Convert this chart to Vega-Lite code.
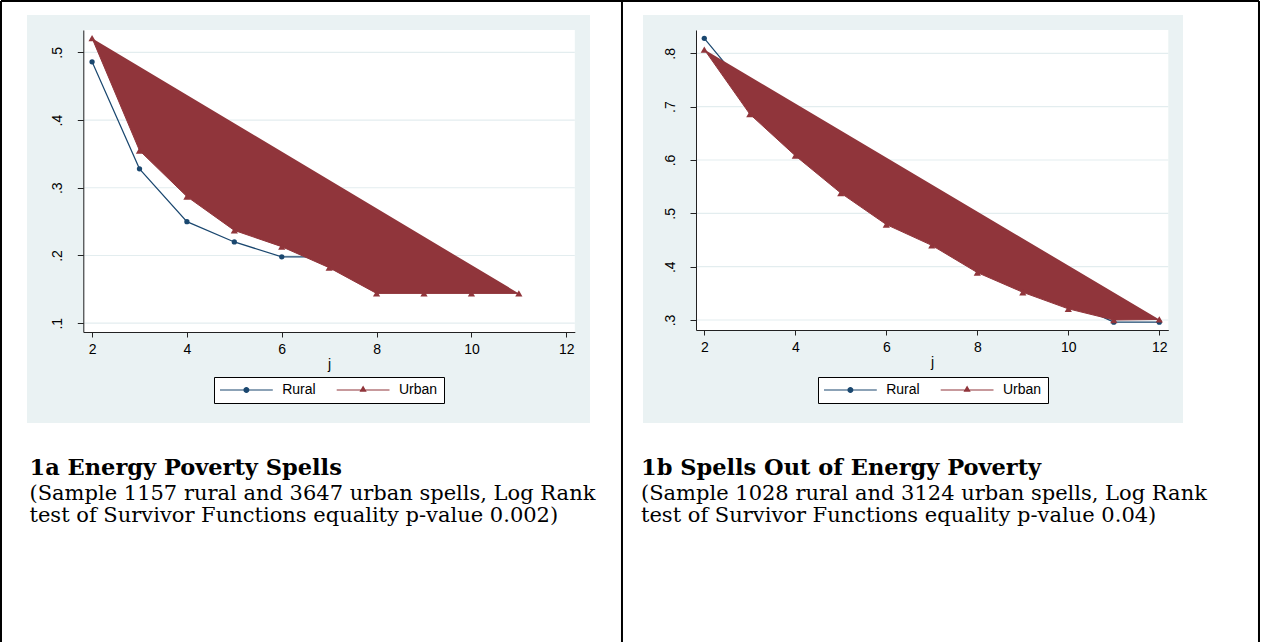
{
  "$schema": "https://vega.github.io/schema/vega-lite/v6.json",
  "background": "#FFFFFF",
  "padding": {"left": -1, "top": -1, "right": 0, "bottom": 0},
  "bounds": "flush",
  "spacing": 53,
  "datasets": {
    "left": [
      {"j": 2, "value": 0.486, "area": "Rural"},
      {"j": 3, "value": 0.328, "area": "Rural"},
      {"j": 4, "value": 0.250, "area": "Rural"},
      {"j": 5, "value": 0.220, "area": "Rural"},
      {"j": 6, "value": 0.198, "area": "Rural"},
      {"j": 7, "value": 0.198, "area": "Rural"},
      {"j": 8, "value": 0.176, "area": "Rural"},
      {"j": 9, "value": 0.166, "area": "Rural"},
      {"j": 10, "value": 0.160, "area": "Rural"},
      {"j": 2, "value": 0.521, "area": "Urban"},
      {"j": 3, "value": 0.355, "area": "Urban"},
      {"j": 4, "value": 0.287, "area": "Urban"},
      {"j": 5, "value": 0.237, "area": "Urban"},
      {"j": 6, "value": 0.213, "area": "Urban"},
      {"j": 7, "value": 0.182, "area": "Urban"},
      {"j": 8, "value": 0.144, "area": "Urban"},
      {"j": 9, "value": 0.144, "area": "Urban"},
      {"j": 10, "value": 0.144, "area": "Urban"},
      {"j": 11, "value": 0.144, "area": "Urban"}
    ],
    "right": [
      {"j": 2, "value": 0.828, "area": "Rural"},
      {"j": 3, "value": 0.725, "area": "Rural"},
      {"j": 4, "value": 0.645, "area": "Rural"},
      {"j": 5, "value": 0.575, "area": "Rural"},
      {"j": 6, "value": 0.515, "area": "Rural"},
      {"j": 7, "value": 0.465, "area": "Rural"},
      {"j": 8, "value": 0.420, "area": "Rural"},
      {"j": 9, "value": 0.380, "area": "Rural"},
      {"j": 10, "value": 0.335, "area": "Rural"},
      {"j": 11, "value": 0.296, "area": "Rural"},
      {"j": 12, "value": 0.296, "area": "Rural"},
      {"j": 2, "value": 0.807, "area": "Urban"},
      {"j": 3, "value": 0.686, "area": "Urban"},
      {"j": 4, "value": 0.608, "area": "Urban"},
      {"j": 5, "value": 0.538, "area": "Urban"},
      {"j": 6, "value": 0.479, "area": "Urban"},
      {"j": 7, "value": 0.440, "area": "Urban"},
      {"j": 8, "value": 0.389, "area": "Urban"},
      {"j": 9, "value": 0.352, "area": "Urban"},
      {"j": 10, "value": 0.321, "area": "Urban"},
      {"j": 11, "value": 0.300, "area": "Urban"},
      {"j": 12, "value": 0.301, "area": "Urban"}
    ]
  },
  "hconcat": [
    {
      "width": 563,
      "height": 408,
      "title": {
        "text": "1a Energy Poverty Spells",
        "subtitle": ["(Sample 1157 rural and 3647 urban spells, Log Rank", "test of Survivor Functions equality p-value 0.002)"],
        "dx": 2.5,
        "dy": -208
      },
      "layer": [
        {
          "data": {"values": [{}]},
          "mark": {"type": "rect", "color": "#FFFFFF"},
          "encoding": {
            "x": {"datum": 1.8361, "type": "quantitative", "title": "j", "scale": {"domain": [1.815, 12.18], "range": [56.3, 547.8], "nice": false, "zero": false},
              "axis": {"values": [2, 4, 6, 8, 10, 12], "format": "d", "title": "j", "offset": -91, "zindex": 1, "tickSize": 5, "labelPadding": 5, "titlePadding": 1, "labelFlush": false}},
            "x2": {"datum": 12.18},
            "y": {"datum": 0.533, "type": "quantitative", "title": null, "scale": {"domain": [0.087, 0.533], "range": [317, 15], "nice": false, "zero": false},
              "axis": {"values": [0.1, 0.2, 0.3, 0.4, 0.5], "title": null, "offset": -56.3, "zindex": 1, "tickSize": 6, "labelAngle": -90, "labelAlign": "center", "labelBaseline": "alphabetic", "labelPadding": 16, "labelExpr": "substring(format(datum.value, '.1f'), 1)", "labelFlush": false}},
            "y2": {"datum": 0.087}
          }
        },
        {
          "data": {"values": [{"g": 0.1}, {"g": 0.2}, {"g": 0.3}, {"g": 0.4}, {"g": 0.5}]},
          "mark": {"type": "rule", "color": "#E3EDEF", "strokeWidth": 1.2},
          "encoding": {
            "x": {"datum": 1.8361, "type": "quantitative", "title": "j", "scale": {"domain": [1.815, 12.18], "range": [56.3, 547.8], "nice": false, "zero": false}},
            "x2": {"datum": 12.18},
            "y": {"field": "g", "type": "quantitative", "title": null, "scale": {"domain": [0.087, 0.533], "range": [317, 15], "nice": false, "zero": false}}
          }
        },
        {
          "data": {"values": [{"bx": 0.0794}, {"bx": 13.175}]},
          "mark": {"type": "rule", "color": "#000000", "strokeWidth": 2},
          "encoding": {
            "x": {"field": "bx", "type": "quantitative", "title": "j", "scale": {"domain": [1.815, 12.18], "range": [56.3, 547.8], "nice": false, "zero": false}},
            "y": {"datum": 0.57585, "type": "quantitative", "title": null, "scale": {"domain": [0.087, 0.533], "range": [317, 15], "nice": false, "zero": false}},
            "y2": {"datum": -0.39742}
          }
        },
        {
          "data": {"values": [{}]},
          "mark": {"type": "rule", "color": "#000000", "strokeWidth": 2},
          "encoding": {
            "x": {"datum": 0.0794, "type": "quantitative", "title": "j", "scale": {"domain": [1.815, 12.18], "range": [56.3, 547.8], "nice": false, "zero": false}},
            "x2": {"datum": 13.175},
            "y": {"datum": 0.57585, "type": "quantitative", "title": null, "scale": {"domain": [0.087, 0.533], "range": [317, 15], "nice": false, "zero": false}}
          }
        },
        {
          "data": {"name": "left"},
          "transform": [{"filter": "datum.area === 'Rural'"}],
          "mark": {"type": "line", "color": "#1A476F", "strokeWidth": 1.2},
          "encoding": {
            "x": {"field": "j", "type": "quantitative", "title": "j", "scale": {"domain": [1.815, 12.18], "range": [56.3, 547.8], "nice": false, "zero": false}},
            "y": {"field": "value", "type": "quantitative", "title": null, "scale": {"domain": [0.087, 0.533], "range": [317, 15], "nice": false, "zero": false}}
          }
        },
        {
          "data": {"name": "left"},
          "transform": [{"filter": "datum.area === 'Rural'"}],
          "mark": {"type": "point", "filled": true, "shape": "circle", "size": 28, "opacity": 1, "color": "#1A476F"},
          "encoding": {
            "x": {"field": "j", "type": "quantitative", "title": "j", "scale": {"domain": [1.815, 12.18], "range": [56.3, 547.8], "nice": false, "zero": false}},
            "y": {"field": "value", "type": "quantitative", "title": null, "scale": {"domain": [0.087, 0.533], "range": [317, 15], "nice": false, "zero": false}}
          }
        },
        {
          "data": {"name": "left"},
          "transform": [{"filter": "datum.area === 'Urban'"}],
          "mark": {"type": "line", "fill": "#90353B", "stroke": "#90353B", "strokeWidth": 1},
          "encoding": {
            "x": {"field": "j", "type": "quantitative", "title": "j", "scale": {"domain": [1.815, 12.18], "range": [56.3, 547.8], "nice": false, "zero": false}},
            "y": {"field": "value", "type": "quantitative", "title": null, "scale": {"domain": [0.087, 0.533], "range": [317, 15], "nice": false, "zero": false}}
          }
        },
        {
          "data": {"name": "left"},
          "transform": [{"filter": "datum.area === 'Urban'"}],
          "mark": {"type": "point", "filled": true, "shape": "triangle-up", "size": 52, "opacity": 1, "color": "#90353B"},
          "encoding": {
            "x": {"field": "j", "type": "quantitative", "title": "j", "scale": {"domain": [1.815, 12.18], "range": [56.3, 547.8], "nice": false, "zero": false}},
            "y": {"field": "value", "type": "quantitative", "title": null, "scale": {"domain": [0.087, 0.533], "range": [317, 15], "nice": false, "zero": false}}
          }
        },
        {
          "data": {"name": "left"},
          "mark": {"type": "point", "filled": true, "opacity": 0, "size": 20},
          "encoding": {
            "x": {"field": "j", "type": "quantitative", "title": "j", "scale": {"domain": [1.815, 12.18], "range": [56.3, 547.8], "nice": false, "zero": false}},
            "y": {"field": "value", "type": "quantitative", "title": null, "scale": {"domain": [0.087, 0.533], "range": [317, 15], "nice": false, "zero": false}},
            "color": {"field": "area", "type": "nominal",
              "scale": {"domain": ["Rural", "Urban"], "range": ["#1A476F", "#90353B"]},
              "legend": {"title": null, "orient": "none", "legendX": 187, "legendY": 362, "direction": "horizontal", "columns": 2,
                "padding": 6, "fillColor": "#FFFFFF", "strokeColor": "#000000", "symbolSize": 64, "symbolOffset": 19.4, "labelOffset": 28.8,
                "symbolOpacity": 1, "symbolStrokeWidth": 0,
                "columnPadding": 20.7, "labelFont": "Liberation Sans", "labelFontSize": 14, "labelColor": "#000000", "labelLimit": 300}},
            "shape": {"field": "area", "type": "nominal",
              "scale": {"domain": ["Rural", "Urban"], "range": ["M-6.6,-0.15H6.6V0.15H-6.6Z M0.75,0A0.75,0.75,0,1,1,-0.75,0A0.75,0.75,0,1,1,0.75,0Z", "M-6.6,-0.15H6.6V0.15H-6.6Z M0,-1.15L0.9,0.45L-0.9,0.45Z"]},
              "legend": {"title": null, "orient": "none", "legendX": 187, "legendY": 362, "direction": "horizontal", "columns": 2,
                "padding": 6, "fillColor": "#FFFFFF", "strokeColor": "#000000", "symbolSize": 64, "symbolOffset": 19.4, "labelOffset": 28.8,
                "symbolOpacity": 1, "symbolStrokeWidth": 0,
                "columnPadding": 20.7, "labelFont": "Liberation Sans", "labelFontSize": 14, "labelColor": "#000000", "labelLimit": 300}}
          }
        }
      ]
    },
    {
      "width": 540,
      "height": 408,
      "title": {
        "text": "1b Spells Out of Energy Poverty",
        "subtitle": ["(Sample 1028 rural and 3124 urban spells, Log Rank", "test of Survivor Functions equality p-value 0.04)"],
        "dx": -2,
        "dy": -208
      },
      "layer": [
        {
          "data": {"values": [{}]},
          "mark": {"type": "rect", "color": "#FFFFFF"},
          "encoding": {
            "x": {"datum": 1.8396, "type": "quantitative", "title": "j", "scale": {"domain": [1.8176, 12.198], "range": [53, 525.3], "nice": false, "zero": false},
              "axis": {"values": [2, 4, 6, 8, 10, 12], "format": "d", "title": "j", "offset": -93, "zindex": 1, "tickSize": 5, "labelPadding": 5, "titlePadding": 1, "labelFlush": false}},
            "x2": {"datum": 12.198},
            "y": {"datum": 0.8437, "type": "quantitative", "title": null, "scale": {"domain": [0.2813, 0.8437], "range": [315, 15], "nice": false, "zero": false},
              "axis": {"values": [0.3, 0.4, 0.5, 0.6, 0.7, 0.8], "title": null, "offset": -53, "zindex": 1, "tickSize": 6, "labelAngle": -90, "labelAlign": "center", "labelBaseline": "alphabetic", "labelPadding": 16, "labelExpr": "substring(format(datum.value, '.1f'), 1)", "labelFlush": false}},
            "y2": {"datum": 0.2813}
          }
        },
        {
          "data": {"values": [{"g": 0.3}, {"g": 0.4}, {"g": 0.5}, {"g": 0.6}, {"g": 0.7}, {"g": 0.8}]},
          "mark": {"type": "rule", "color": "#E3EDEF", "strokeWidth": 1.2},
          "encoding": {
            "x": {"datum": 1.8396, "type": "quantitative", "title": "j", "scale": {"domain": [1.8176, 12.198], "range": [53, 525.3], "nice": false, "zero": false}},
            "x2": {"datum": 12.198},
            "y": {"field": "g", "type": "quantitative", "title": null, "scale": {"domain": [0.2813, 0.8437], "range": [315, 15], "nice": false, "zero": false}}
          }
        },
        {
          "data": {"values": [{}]},
          "mark": {"type": "rule", "color": "#000000", "strokeWidth": 2},
          "encoding": {
            "x": {"datum": 14.1912, "type": "quantitative", "title": "j", "scale": {"domain": [1.8176, 12.198], "range": [53, 525.3], "nice": false, "zero": false}},
            "y": {"datum": 0.8981, "type": "quantitative", "title": null, "scale": {"domain": [0.2813, 0.8437], "range": [315, 15], "nice": false, "zero": false}},
            "y2": {"datum": -0.33737}
          }
        },
        {
          "data": {"values": [{}]},
          "mark": {"type": "rule", "color": "#000000", "strokeWidth": 2},
          "encoding": {
            "x": {"datum": 0.1912, "type": "quantitative", "title": "j", "scale": {"domain": [1.8176, 12.198], "range": [53, 525.3], "nice": false, "zero": false}},
            "x2": {"datum": 14.1912},
            "y": {"datum": 0.8981, "type": "quantitative", "title": null, "scale": {"domain": [0.2813, 0.8437], "range": [315, 15], "nice": false, "zero": false}}
          }
        },
        {
          "data": {"name": "right"},
          "transform": [{"filter": "datum.area === 'Rural'"}],
          "mark": {"type": "line", "color": "#1A476F", "strokeWidth": 1.2},
          "encoding": {
            "x": {"field": "j", "type": "quantitative", "title": "j", "scale": {"domain": [1.8176, 12.198], "range": [53, 525.3], "nice": false, "zero": false}},
            "y": {"field": "value", "type": "quantitative", "title": null, "scale": {"domain": [0.2813, 0.8437], "range": [315, 15], "nice": false, "zero": false}}
          }
        },
        {
          "data": {"name": "right"},
          "transform": [{"filter": "datum.area === 'Rural'"}],
          "mark": {"type": "point", "filled": true, "shape": "circle", "size": 28, "opacity": 1, "color": "#1A476F"},
          "encoding": {
            "x": {"field": "j", "type": "quantitative", "title": "j", "scale": {"domain": [1.8176, 12.198], "range": [53, 525.3], "nice": false, "zero": false}},
            "y": {"field": "value", "type": "quantitative", "title": null, "scale": {"domain": [0.2813, 0.8437], "range": [315, 15], "nice": false, "zero": false}}
          }
        },
        {
          "data": {"name": "right"},
          "transform": [{"filter": "datum.area === 'Urban'"}],
          "mark": {"type": "line", "fill": "#90353B", "stroke": "#90353B", "strokeWidth": 1},
          "encoding": {
            "x": {"field": "j", "type": "quantitative", "title": "j", "scale": {"domain": [1.8176, 12.198], "range": [53, 525.3], "nice": false, "zero": false}},
            "y": {"field": "value", "type": "quantitative", "title": null, "scale": {"domain": [0.2813, 0.8437], "range": [315, 15], "nice": false, "zero": false}}
          }
        },
        {
          "data": {"name": "right"},
          "transform": [{"filter": "datum.area === 'Urban'"}],
          "mark": {"type": "point", "filled": true, "shape": "triangle-up", "size": 52, "opacity": 1, "color": "#90353B"},
          "encoding": {
            "x": {"field": "j", "type": "quantitative", "title": "j", "scale": {"domain": [1.8176, 12.198], "range": [53, 525.3], "nice": false, "zero": false}},
            "y": {"field": "value", "type": "quantitative", "title": null, "scale": {"domain": [0.2813, 0.8437], "range": [315, 15], "nice": false, "zero": false}}
          }
        },
        {
          "data": {"name": "right"},
          "mark": {"type": "point", "filled": true, "opacity": 0, "size": 20},
          "encoding": {
            "x": {"field": "j", "type": "quantitative", "title": "j", "scale": {"domain": [1.8176, 12.198], "range": [53, 525.3], "nice": false, "zero": false}},
            "y": {"field": "value", "type": "quantitative", "title": null, "scale": {"domain": [0.2813, 0.8437], "range": [315, 15], "nice": false, "zero": false}},
            "color": {"field": "area", "type": "nominal",
              "scale": {"domain": ["Rural", "Urban"], "range": ["#1A476F", "#90353B"]},
              "legend": {"title": null, "orient": "none", "legendX": 175, "legendY": 362, "direction": "horizontal", "columns": 2,
                "padding": 6, "fillColor": "#FFFFFF", "strokeColor": "#000000", "symbolSize": 64, "symbolOffset": 19.4, "labelOffset": 28.8,
                "symbolOpacity": 1, "symbolStrokeWidth": 0,
                "columnPadding": 20.7, "labelFont": "Liberation Sans", "labelFontSize": 14, "labelColor": "#000000", "labelLimit": 300}},
            "shape": {"field": "area", "type": "nominal",
              "scale": {"domain": ["Rural", "Urban"], "range": ["M-6.6,-0.15H6.6V0.15H-6.6Z M0.75,0A0.75,0.75,0,1,1,-0.75,0A0.75,0.75,0,1,1,0.75,0Z", "M-6.6,-0.15H6.6V0.15H-6.6Z M0,-1.15L0.9,0.45L-0.9,0.45Z"]},
              "legend": {"title": null, "orient": "none", "legendX": 175, "legendY": 362, "direction": "horizontal", "columns": 2,
                "padding": 6, "fillColor": "#FFFFFF", "strokeColor": "#000000", "symbolSize": 64, "symbolOffset": 19.4, "labelOffset": 28.8,
                "symbolOpacity": 1, "symbolStrokeWidth": 0,
                "columnPadding": 20.7, "labelFont": "Liberation Sans", "labelFontSize": 14, "labelColor": "#000000", "labelLimit": 300}}
          }
        }
      ]
    }
  ],
  "resolve": {
    "scale": {"x": "independent", "y": "independent", "color": "independent", "shape": "independent"},
    "axis": {"x": "independent", "y": "independent"},
    "legend": {"color": "independent", "shape": "independent"}
  },
  "config": {
    "view": {"stroke": null, "fill": "#EAF2F3"},
    "axis": {
      "labelFont": "Liberation Sans", "labelFontSize": 14, "labelColor": "#000000",
      "titleFont": "Liberation Sans", "titleFontSize": 14, "titleFontWeight": "normal", "titleColor": "#000000",
      "domainColor": "#222222", "tickColor": "#222222", "domainWidth": 1, "tickWidth": 1,
      "grid": false, "labelOverlap": false
    },
    "title": {
      "font": "DejaVu Serif", "fontSize": 22.5, "fontWeight": "bold", "color": "#000000",
      "anchor": "start", "orient": "bottom", "frame": "group", "offset": 0, "baseline": "top",
      "subtitleFont": "DejaVu Serif", "subtitleFontSize": 21, "subtitleColor": "#000000",
      "subtitleLineHeight": 22, "subtitlePadding": 0
    }
  }
}
